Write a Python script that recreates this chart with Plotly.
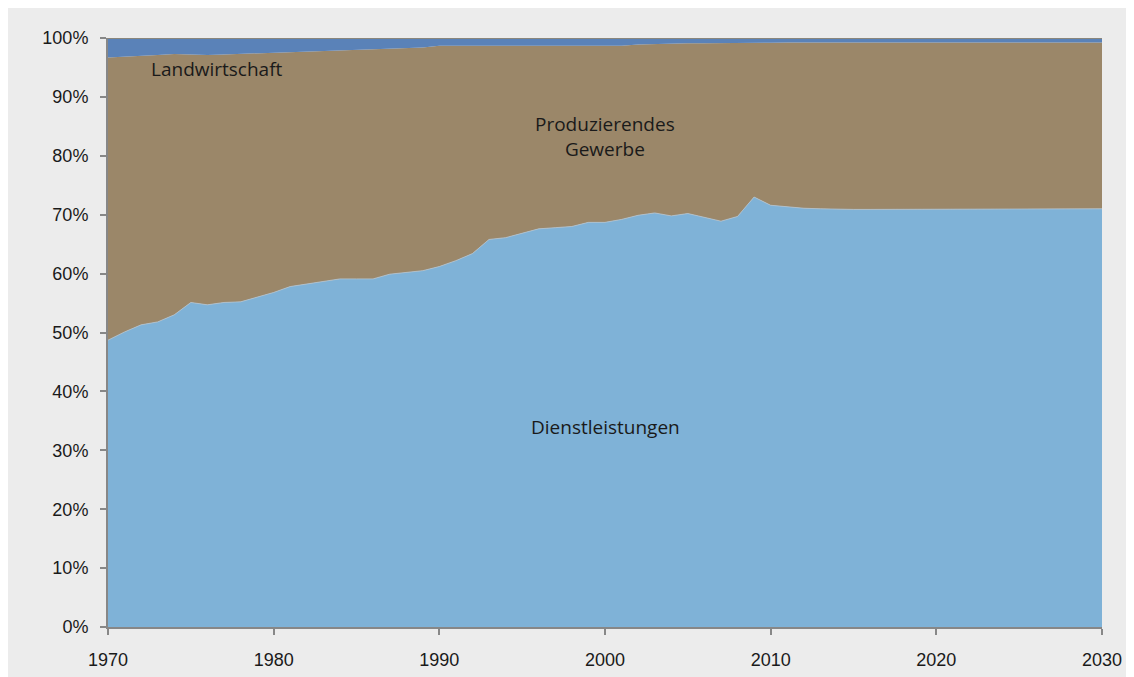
import plotly.graph_objects as go

years = list(range(1970, 2031))

# Anteil Dienstleistungen (%)
dienstleistungen = [
    48.7, 50.1, 51.3, 51.8, 53.0, 55.1, 54.7, 55.1, 55.2, 56.0,
    56.8, 57.8, 58.2, 58.7, 59.1, 59.1, 59.1, 59.9, 60.2, 60.5,
    61.2, 62.2, 63.4, 65.8, 66.1, 66.8, 67.6, 67.8, 68.0, 68.7,
    68.7, 69.2, 69.9, 70.3, 69.8, 70.2, 69.6, 68.9, 69.7, 73.0,
    71.6, 71.3, 71.1, 71.0, 70.9, 70.9, 70.9, 70.9, 70.9, 70.9,
    70.9, 70.9, 70.9, 70.9, 70.9, 70.9, 70.9, 70.9, 70.9, 71.0,
    71.0,
]

# Anteil Landwirtschaft (%)
landwirtschaft = [
    3.3, 3.2, 3.1, 2.9, 2.7, 2.8, 2.9, 2.8, 2.7, 2.5,
    2.4, 2.4, 2.3, 2.1, 2.0, 1.9, 1.8, 1.7, 1.7, 1.6,
    1.3, 1.3, 1.2, 1.2, 1.2, 1.2, 1.2, 1.2, 1.2, 1.2,
    1.2, 1.3, 1.1, 1.0, 1.0, 0.9, 0.9, 0.9, 0.9, 0.8,
    0.8, 0.75, 0.75, 0.75, 0.75, 0.75, 0.75, 0.75, 0.75, 0.75,
    0.75, 0.75, 0.75, 0.75, 0.75, 0.75, 0.75, 0.75, 0.75, 0.75,
    0.75,
]

# Rest = Produzierendes Gewerbe
gewerbe = [round(100 - d - l, 2) for d, l in zip(dienstleistungen, landwirtschaft)]

c_dienst = '#7fb2d7'
c_gewerbe = '#9b8769'
c_land = '#5a82b8'
bg = '#ececec'
axis_col = '#878787'

fig = go.Figure()

fig.add_trace(go.Scatter(
    x=years, y=dienstleistungen, stackgroup='s', mode='lines',
    line=dict(width=0.8, color='#b0c4d4'), fillcolor=c_dienst,
    name='Dienstleistungen', hoverinfo='x+y',
))
fig.add_trace(go.Scatter(
    x=years, y=gewerbe, stackgroup='s', mode='lines',
    line=dict(width=0), fillcolor=c_gewerbe,
    name='Produzierendes Gewerbe', hoverinfo='x+y',
))
fig.add_trace(go.Scatter(
    x=years, y=landwirtschaft, stackgroup='s', mode='lines',
    line=dict(width=1.5, color=c_gewerbe), fillcolor=c_land,
    name='Landwirtschaft', hoverinfo='x+y',
))

label_font = dict(family='Open Sans, sans-serif', size=19, color='#1a1a1a')
fig.add_annotation(x=1976.6, y=94.7, text='Landwirtschaft', showarrow=False, font=label_font)
fig.add_annotation(x=2000, y=83.2, text='Produzierendes<br>Gewerbe', showarrow=False, font=label_font)
fig.add_annotation(x=2000, y=34.0, text='Dienstleistungen', showarrow=False, font=label_font)

# page body adds 8px offset, margins are chosen so the plot lands where the original is
fig.update_layout(
    width=1126, height=669,
    margin=dict(l=100, r=32, t=30, b=50),
    paper_bgcolor=bg, plot_bgcolor=bg,
    showlegend=False,
    font=dict(family='Liberation Sans, Arial, sans-serif', size=18, color='#1a1a1a'),
)
fig.update_xaxes(
    range=[1970, 2030], tickvals=list(range(1970, 2031, 10)),
    showgrid=False, zeroline=False, showline=True, linecolor=axis_col, linewidth=2,
    ticks='outside', ticklen=6, tickwidth=1.5, tickcolor=axis_col,
    ticklabelstandoff=9, automargin=False,
)
fig.update_yaxes(
    range=[0, 100], tickvals=list(range(0, 101, 10)),
    ticktext=[f'{v}%' for v in range(0, 101, 10)],
    showgrid=False, zeroline=False, showline=True, linecolor=axis_col, linewidth=2,
    ticks='outside', ticklen=6, tickwidth=1.5, tickcolor=axis_col,
    ticklabelstandoff=8, automargin=False,
)

fig.write_html("out.html")
